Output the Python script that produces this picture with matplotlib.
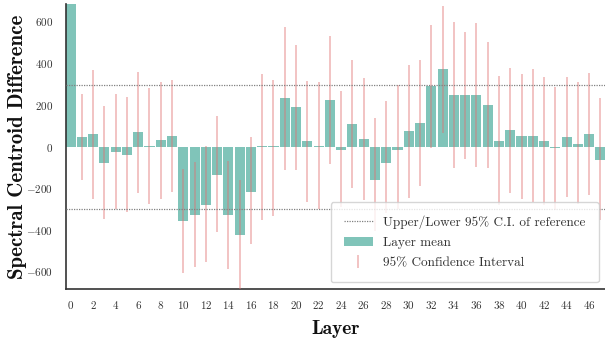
import matplotlib
matplotlib.use("Agg")
import matplotlib.pyplot as plt
import numpy as np

plt.rcParams['font.family'] = 'serif'
plt.rcParams['font.serif'] = ['cmr10']
plt.rcParams['mathtext.fontset'] = 'cm'
plt.rcParams['axes.formatter.use_mathtext'] = True

layers = list(range(48))
layer_mean = [900, 46, 60, -78, -26, -39, 70, 3, 31, 52,
              -357, -328, -280, -135, -328, -424, -217, 2, 2, 233,
              190, 26, 4, 224, -15, 108, 36, -159, -78, -15,
              75, 113, 291, 373, 248, 248, 248, 200, 26, 79,
              50, 50, 26, -8, 46, 12, 60, -63]
ci_low = [685, -161, -252, -347, -300, -312, -222, -276, -252, -217,
          -605, -578, -553, -409, -587, -720, -470, -353, -333, -111,
          -111, -264, -300, -84, -290, -198, -257, -405, -321, -300,
          -246, -188, -7, 63, -102, -62, -99, -105, -281, -222,
          -254, -265, -281, -305, -244, -276, -232, -353]
ci_high = [1100, 251, 366, 193, 254, 238, 358, 281, 310, 318,
           -108, -75, 2, 145, -71, -163, 44, 349, 318, 573,
           488, 315, 308, 531, 267, 414, 329, 137, 219, 296,
           391, 414, 584, 676, 598, 550, 592, 502, 339, 376,
           349, 371, 333, 288, 333, 312, 352, 233]
ref_ci = [297, -298]
xticks = list(range(0, 47, 2))
yticks = [-600, -400, -200, 0, 200, 400, 600]

fig = plt.figure(figsize=(6.05, 3.45), dpi=100)
ax = fig.add_axes([65.5 / 605, 56 / 345, 540 / 605, 285 / 345])

mean = np.array(layer_mean, dtype=float)
yerr = np.vstack([mean - np.array(ci_low), np.array(ci_high) - mean])

ax.bar(layers, mean, width=0.9, color='#80c4b9', zorder=2, label='Layer mean')
ax.errorbar(layers, mean, yerr=yerr, fmt='none', ecolor='#e07070', alpha=0.45,
            elinewidth=1.3, zorder=3, label='95% Confidence Interval')
for i, v in enumerate(ref_ci):
    ax.axhline(v, color='#808080', linestyle=(0, (1, 1)), linewidth=0.9, zorder=4,
               label='Upper/Lower 95% C.I. of reference' if i == 0 else None)

ax.set_xlim(-0.45, 47.45)
ax.set_ylim(-684, 684)
ax.set_xticks(xticks)
ax.set_yticks(yticks)
ax.tick_params(axis='both', length=0, labelsize=8, labelcolor='#333333')
ax.tick_params(axis='x', pad=7)
ax.tick_params(axis='y', pad=9)

for s in ['top', 'right']:
    ax.spines[s].set_visible(False)
for s in ['left', 'bottom']:
    ax.spines[s].set_color('#333333')
    ax.spines[s].set_linewidth(1.2)

ax.set_xlabel('Layer', fontsize=14, family='cmb10', color='#111111')
ax.set_ylabel('Spectral Centroid Difference', fontsize=15, family='cmb10', color='#111111')
ax.xaxis.set_label_coords(0.5, -0.11)
ax.yaxis.set_label_coords(-0.072, 0.5)

handles, labels = ax.get_legend_handles_labels()
order = [labels.index('Upper/Lower 95% C.I. of reference'), labels.index('Layer mean'),
         labels.index('95% Confidence Interval')]
leg = ax.legend([handles[i] for i in order], [labels[i] for i in order],
                loc='lower right', fontsize=9.5, frameon=True, fancybox=True,
                edgecolor='#cccccc', framealpha=0.8, borderpad=1.0,
                labelspacing=0.6, handlelength=2.2)
for t in leg.get_texts():
    t.set_color('#333333')

fig.savefig('out.png', dpi=100)
